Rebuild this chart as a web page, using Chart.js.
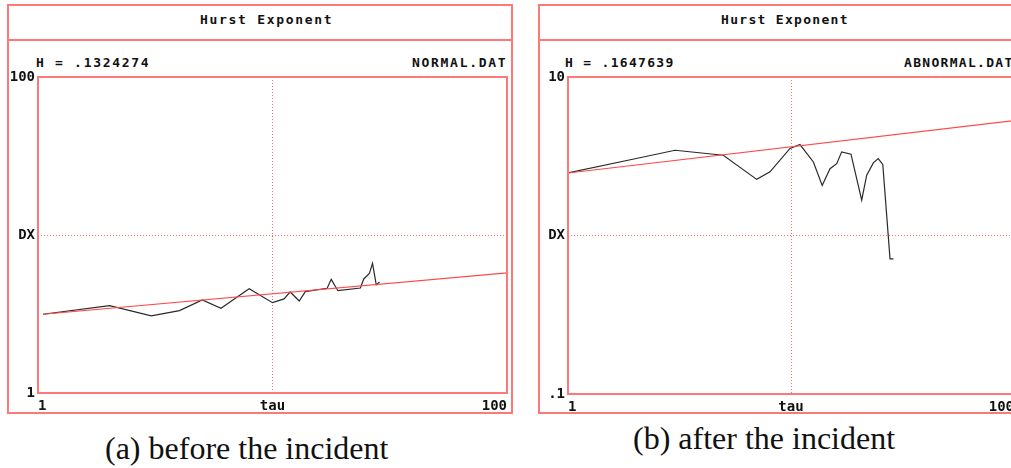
<!DOCTYPE html>
<html>
<head>
<meta charset="utf-8">
<script src="https://cdn.jsdelivr.net/npm/chart.js@4.4.0/dist/chart.umd.min.js"></script>
<style>
  body { margin: 0; width: 1011px; height: 468px; overflow: hidden; background: #fff; position: relative; }
  .frame { position: absolute; border: 2px solid #ff7878; box-sizing: border-box; }
  .divider { position: absolute; height: 0; border-top: 2px solid #ff7878; }
  .mono { position: absolute; font-family: "DejaVu Sans Mono", monospace; font-weight: bold; font-size: 13px; line-height: 13px; color: #111; white-space: nowrap; }
  .cap { position: absolute; font-family: "Liberation Serif", "Times New Roman", serif; font-size: 32px; line-height: 32px; color: #111; white-space: nowrap; }
  canvas { position: absolute; }
</style>
</head>
<body>
<!-- left panel -->
<div class="frame" style="left:7px;top:4px;width:506px;height:410px"></div>
<div class="divider" style="left:7px;top:39px;width:506px"></div>
<div class="mono" style="left:200px;top:13px;letter-spacing:1.7px">Hurst Exponent</div>
<div class="mono" style="left:36px;top:56px;letter-spacing:1.7px">H = .1324274</div>
<div class="mono" style="left:412px;top:56px;letter-spacing:1.7px">NORMAL.DAT</div>
<canvas id="before" width="504" height="353" style="left:8px;top:60px"></canvas>

<!-- right panel -->
<div class="frame" style="left:538px;top:4px;width:484px;height:410px"></div>
<div class="divider" style="left:538px;top:39px;width:484px"></div>
<div class="mono" style="left:721px;top:13px;letter-spacing:1.3px">Hurst Exponent</div>
<div class="mono" style="left:565px;top:56px;letter-spacing:1.3px">H = .1647639</div>
<div class="mono" style="left:904px;top:56px;letter-spacing:1.3px">ABNORMAL.DAT</div>
<canvas id="after" width="481" height="354" style="left:539px;top:60px"></canvas>

<div class="cap" style="left:105px;top:432px">(a) before the incident</div>
<div class="cap" style="left:633px;top:422px">(b) after the incident</div>

<script>
// before the incident (NORMAL.DAT)
const tauBefore = [1.05, 2.02, 3.04, 4.01, 5.02, 6.03, 7.07, 7.95, 10, 11.2, 11.9, 13, 13.8, 17.1, 17.8, 19, 23.7, 24.5, 25.9, 26.7, 27.7, 28.6];
const dxBefore  = [3.15, 3.57, 3.08, 3.32, 3.88, 3.44, 4.05, 4.57, 3.73, 3.94, 4.36, 3.82, 4.38, 4.60, 5.24, 4.44, 4.62, 5.27, 5.72, 6.62, 4.83, 5.04];
const fitTauBefore = [1.05, 100];
const fitDxBefore  = [3.15, 5.75];

// after the incident (ABNORMAL.DAT)
const tauAfter = [1, 2, 3.02, 4.97, 7.02, 8.05, 9.9, 10.97, 12.6, 13.8, 14.96, 16.03, 16.88, 18.58, 20.75, 21.85, 23.4, 24.6, 25.8, 27.8, 28.8];
const dxAfter  = [2.48, 3.05, 3.45, 3.21, 2.26, 2.52, 3.54, 3.75, 2.91, 2.07, 2.64, 2.84, 3.37, 3.26, 1.67, 2.40, 2.87, 3.06, 2.81, 0.712, 0.712];
const fitTauAfter = [1, 100];
const fitDxAfter  = [2.48, 5.30];

const xTicks = [1, 10, 100];
const xLabels = ['1', 'tau', '100'];
const yTicksBefore = [1, 10, 100];
const yLabelsBefore = ['1', 'DX', '100'];
const yTicksAfter = [0.1, 1, 10];
const yLabelsAfter = ['.1', 'DX', '10'];

const RED = '#ff7878';
const tickFont = { family: 'DejaVu Sans Mono', weight: 'bold', size: 14 };

const boxPlugin = {
  id: 'box',
  afterDraw(chart) {
    const a = chart.chartArea, c = chart.ctx;
    c.save();
    c.strokeStyle = RED;
    c.lineWidth = 2;
    c.strokeRect(a.left, a.top, a.right - a.left, a.bottom - a.top);
    c.restore();
  }
};

function pts(xs, ys) { return xs.map((x, i) => ({ x: x, y: ys[i] })); }

// only the middle tick gets a dotted red grid line
const midColor = ['rgba(0,0,0,0)', '#ff6e6e', 'rgba(0,0,0,0)'];

function makeChart(id, tau, dx, fitTau, fitDx, yTicks, yLabels, pad, yWidth) {
  new Chart(document.getElementById(id), {
    type: 'scatter',
    data: {
      datasets: [
        { data: pts(fitTau, fitDx), showLine: true, borderColor: '#ff4a4a', borderWidth: 1.2, pointRadius: 0 },
        { data: pts(tau, dx), showLine: true, borderColor: '#2a2a2a', borderWidth: 1.2, pointRadius: 0 }
      ]
    },
    options: {
      responsive: false,
      animation: false,
      devicePixelRatio: 1,
      layout: { padding: pad },
      plugins: { legend: { display: false }, tooltip: { enabled: false } },
      scales: {
        x: {
          type: 'logarithmic', min: 1, max: 100,
          afterBuildTicks: s => { s.ticks = xTicks.map(v => ({ value: v })); },
          afterFit: s => { s.height = 20; },
          ticks: { font: tickFont, color: '#111', padding: 5, align: 'inner', maxRotation: 0,
                   callback: (v) => xLabels[xTicks.indexOf(v)] },
          grid: { drawTicks: false, lineWidth: 1, color: midColor },
          border: { display: false, dash: [1, 2] }
        },
        y: {
          type: 'logarithmic', min: yTicks[0], max: yTicks[2],
          afterBuildTicks: s => { s.ticks = yTicks.map(v => ({ value: v })); },
          afterFit: s => { s.width = yWidth; },
          ticks: { font: tickFont, color: '#111', padding: 3,
                   callback: (v) => yLabels[yTicks.indexOf(v)] },
          grid: { drawTicks: false, lineWidth: 1, color: midColor },
          border: { display: false, dash: [1, 2] }
        }
      }
    },
    plugins: [boxPlugin]
  });
}

makeChart('before', tauBefore, dxBefore, fitTauBefore, fitDxBefore, yTicksBefore, yLabelsBefore,
  { top: 17, right: 3, left: 0, bottom: 0 }, 30);
makeChart('after', tauAfter, dxAfter, fitTauAfter, fitDxAfter, yTicksAfter, yLabelsAfter,
  { top: 17, right: 6, left: 0, bottom: 0 }, 29);
</script>
</body>
</html>
